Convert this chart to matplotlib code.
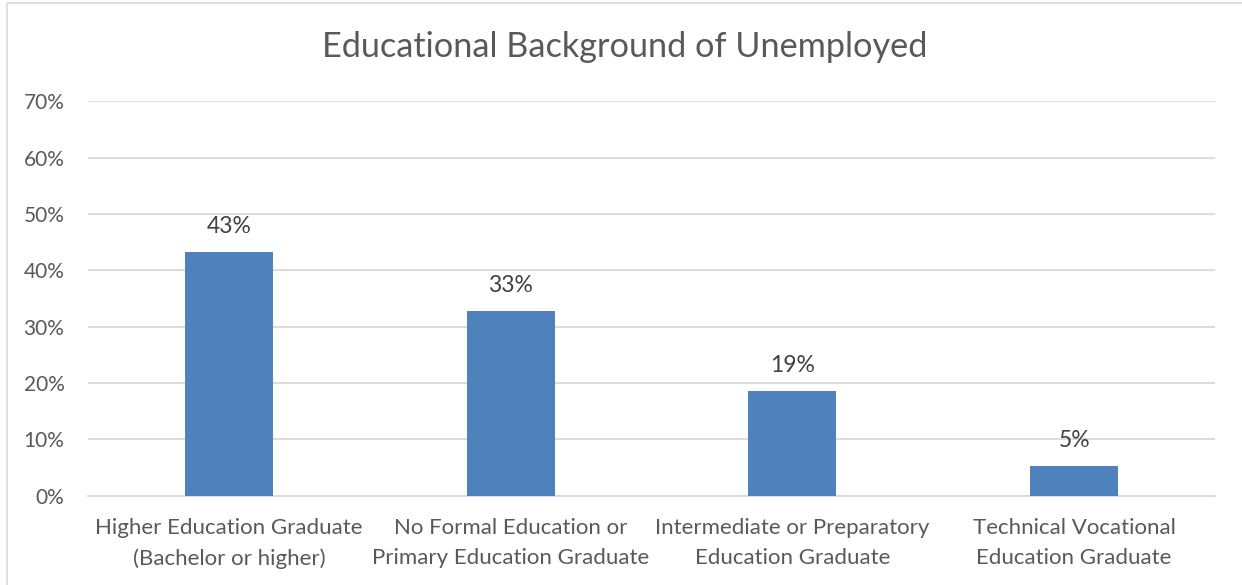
import matplotlib
matplotlib.use("Agg")
import matplotlib.pyplot as plt
from matplotlib.patches import Rectangle
from matplotlib.ticker import FuncFormatter, MultipleLocator

# Share of unemployed by educational background
categories = [
    "Higher Education Graduate\n(Bachelor or higher)",
    "No Formal Education or\nPrimary Education Graduate",
    "Intermediate or Preparatory\nEducation Graduate",
    "Technical Vocational\nEducation Graduate",
]
shares = [0.432, 0.328, 0.186, 0.052]
title = "Educational Background of Unemployed"

TEXT = "#595959"
GRID = "#d9d9d9"
BAR = "#4f81bd"
FONT = "Lato"

plt.rcParams["font.family"] = [FONT, "DejaVu Sans"]

fig = plt.figure(figsize=(12.42, 5.85), dpi=100)
W, H = 1242, 585

# plot area in pixel terms
left, right, bottom, top = 88, 1215, 495.5, 101.5
ax = fig.add_axes([left / W, 1 - bottom / H, (right - left) / W, (bottom - top) / H])

x = list(range(len(categories)))
bars = ax.bar(x, shares, width=0.313, color=BAR, zorder=3)

ax.set_xlim(-0.5, len(categories) - 0.5)
ax.set_ylim(0, 0.70)
ax.yaxis.set_major_locator(MultipleLocator(0.10))
ax.yaxis.set_major_formatter(FuncFormatter(lambda v, _: f"{v * 100:.0f}%"))
ax.grid(axis="y", color=GRID, linewidth=1.3, zorder=0)
ax.set_axisbelow(True)

for s in ["top", "right", "left"]:
    ax.spines[s].set_visible(False)
ax.spines["bottom"].set_color(GRID)
ax.spines["bottom"].set_linewidth(1.3)

ax.set_xticks(x)
ax.set_xticklabels(categories, fontsize=16, color=TEXT, linespacing=1.6)
ax.tick_params(axis="x", length=0, pad=16.5)
ax.tick_params(axis="y", length=0, pad=17, labelsize=15, labelcolor=TEXT)

for rect, v in zip(bars, shares):
    ax.annotate(f"{v * 100:.0f}%", (rect.get_x() + rect.get_width() / 2, v),
                xytext=(0, 11), textcoords="offset points",
                ha="center", va="bottom", fontsize=16.5, color="#404040")

fig.text(625 / W, 1 - 47 / H, title, ha="center", va="center",
         fontsize=24.7, color=TEXT)

# outer chart frame
fig.patches.append(Rectangle((7 / W, -0.01), 1.1, 1 - 3 / H + 0.01,
                             transform=fig.transFigure, fill=False,
                             edgecolor=GRID, linewidth=1.2))

fig.savefig("out.png", dpi=100, facecolor="white")
